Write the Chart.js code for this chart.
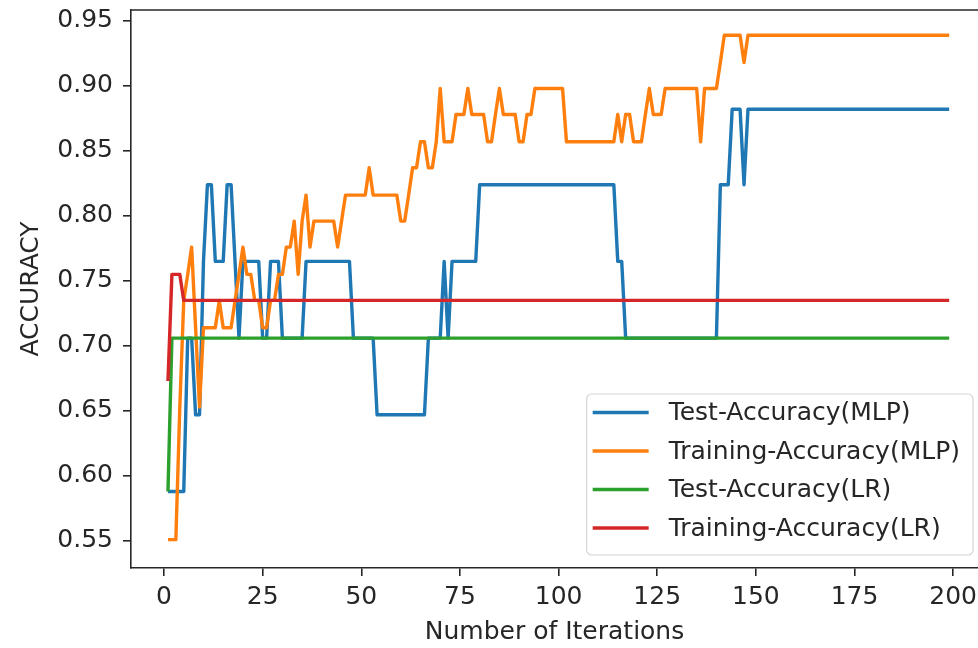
<!DOCTYPE html>
<html>
<head>
<meta charset="utf-8">
<script src="https://cdn.jsdelivr.net/npm/chart.js@4/dist/chart.umd.min.js"></script>
<style>
  html, body { margin: 0; padding: 0; background: #fff; overflow: hidden; }
  canvas { display: block; }
</style>
</head>
<body>
<canvas id="chart" width="978" height="648"></canvas>
<script>
/* ===== Accuracy vs iterations ===== */

// iterations 1..199
const iterations = [];
for (let i = 1; i <= 199; i++) iterations.push(i);

const testMlp = [
  0.588, 0.588, 0.588, 0.588, 0.588, 0.706, 0.706, 0.647, 0.647, 0.765,
  0.824, 0.824, 0.765, 0.765, 0.765, 0.824, 0.824, 0.765, 0.706, 0.765,
  0.765, 0.765, 0.765, 0.765, 0.706, 0.706, 0.765, 0.765, 0.765, 0.706,
  0.706, 0.706, 0.706, 0.706, 0.706, 0.765, 0.765, 0.765, 0.765, 0.765,
  0.765, 0.765, 0.765, 0.765, 0.765, 0.765, 0.765, 0.706, 0.706, 0.706,
  0.706, 0.706, 0.706, 0.647, 0.647, 0.647, 0.647, 0.647, 0.647, 0.647,
  0.647, 0.647, 0.647, 0.647, 0.647, 0.647, 0.706, 0.706, 0.706, 0.706,
  0.765, 0.706, 0.765, 0.765, 0.765, 0.765, 0.765, 0.765, 0.765, 0.824,
  0.824, 0.824, 0.824, 0.824, 0.824, 0.824, 0.824, 0.824, 0.824, 0.824,
  0.824, 0.824, 0.824, 0.824, 0.824, 0.824, 0.824, 0.824, 0.824, 0.824,
  0.824, 0.824, 0.824, 0.824, 0.824, 0.824, 0.824, 0.824, 0.824, 0.824,
  0.824, 0.824, 0.824, 0.824, 0.765, 0.765, 0.706, 0.706, 0.706, 0.706,
  0.706, 0.706, 0.706, 0.706, 0.706, 0.706, 0.706, 0.706, 0.706, 0.706,
  0.706, 0.706, 0.706, 0.706, 0.706, 0.706, 0.706, 0.706, 0.706, 0.706,
  0.824, 0.824, 0.824, 0.882, 0.882, 0.882, 0.824, 0.882, 0.882, 0.882,
  0.882, 0.882, 0.882, 0.882, 0.882, 0.882, 0.882, 0.882, 0.882, 0.882,
  0.882, 0.882, 0.882, 0.882, 0.882, 0.882, 0.882, 0.882, 0.882, 0.882,
  0.882, 0.882, 0.882, 0.882, 0.882, 0.882, 0.882, 0.882, 0.882, 0.882,
  0.882, 0.882, 0.882, 0.882, 0.882, 0.882, 0.882, 0.882, 0.882, 0.882,
  0.882, 0.882, 0.882, 0.882, 0.882, 0.882, 0.882, 0.882, 0.882
];

const trainMlp = [
  0.551, 0.551, 0.551, 0.653, 0.735, 0.755, 0.776, 0.714, 0.653, 0.714,
  0.714, 0.714, 0.714, 0.735, 0.714, 0.714, 0.714, 0.735, 0.755, 0.776,
  0.755, 0.755, 0.735, 0.735, 0.714, 0.714, 0.735, 0.735, 0.755, 0.755,
  0.776, 0.776, 0.796, 0.755, 0.796, 0.816, 0.776, 0.796, 0.796, 0.796,
  0.796, 0.796, 0.796, 0.776, 0.796, 0.816, 0.816, 0.816, 0.816, 0.816,
  0.816, 0.837, 0.816, 0.816, 0.816, 0.816, 0.816, 0.816, 0.816, 0.796,
  0.796, 0.816, 0.837, 0.837, 0.857, 0.857, 0.837, 0.837, 0.857, 0.898,
  0.857, 0.857, 0.857, 0.878, 0.878, 0.878, 0.898, 0.878, 0.878, 0.878,
  0.878, 0.857, 0.857, 0.878, 0.898, 0.878, 0.878, 0.878, 0.878, 0.857,
  0.857, 0.878, 0.878, 0.898, 0.898, 0.898, 0.898, 0.898, 0.898, 0.898,
  0.898, 0.857, 0.857, 0.857, 0.857, 0.857, 0.857, 0.857, 0.857, 0.857,
  0.857, 0.857, 0.857, 0.857, 0.878, 0.857, 0.878, 0.878, 0.857, 0.857,
  0.857, 0.878, 0.898, 0.878, 0.878, 0.878, 0.898, 0.898, 0.898, 0.898,
  0.898, 0.898, 0.898, 0.898, 0.898, 0.857, 0.898, 0.898, 0.898, 0.898,
  0.918, 0.939, 0.939, 0.939, 0.939, 0.939, 0.918, 0.939, 0.939, 0.939,
  0.939, 0.939, 0.939, 0.939, 0.939, 0.939, 0.939, 0.939, 0.939, 0.939,
  0.939, 0.939, 0.939, 0.939, 0.939, 0.939, 0.939, 0.939, 0.939, 0.939,
  0.939, 0.939, 0.939, 0.939, 0.939, 0.939, 0.939, 0.939, 0.939, 0.939,
  0.939, 0.939, 0.939, 0.939, 0.939, 0.939, 0.939, 0.939, 0.939, 0.939,
  0.939, 0.939, 0.939, 0.939, 0.939, 0.939, 0.939, 0.939, 0.939
];

const testLr = [
  0.588, 0.706, 0.706, 0.706, 0.706, 0.706, 0.706, 0.706, 0.706, 0.706,
  0.706, 0.706, 0.706, 0.706, 0.706, 0.706, 0.706, 0.706, 0.706, 0.706,
  0.706, 0.706, 0.706, 0.706, 0.706, 0.706, 0.706, 0.706, 0.706, 0.706,
  0.706, 0.706, 0.706, 0.706, 0.706, 0.706, 0.706, 0.706, 0.706, 0.706,
  0.706, 0.706, 0.706, 0.706, 0.706, 0.706, 0.706, 0.706, 0.706, 0.706,
  0.706, 0.706, 0.706, 0.706, 0.706, 0.706, 0.706, 0.706, 0.706, 0.706,
  0.706, 0.706, 0.706, 0.706, 0.706, 0.706, 0.706, 0.706, 0.706, 0.706,
  0.706, 0.706, 0.706, 0.706, 0.706, 0.706, 0.706, 0.706, 0.706, 0.706,
  0.706, 0.706, 0.706, 0.706, 0.706, 0.706, 0.706, 0.706, 0.706, 0.706,
  0.706, 0.706, 0.706, 0.706, 0.706, 0.706, 0.706, 0.706, 0.706, 0.706,
  0.706, 0.706, 0.706, 0.706, 0.706, 0.706, 0.706, 0.706, 0.706, 0.706,
  0.706, 0.706, 0.706, 0.706, 0.706, 0.706, 0.706, 0.706, 0.706, 0.706,
  0.706, 0.706, 0.706, 0.706, 0.706, 0.706, 0.706, 0.706, 0.706, 0.706,
  0.706, 0.706, 0.706, 0.706, 0.706, 0.706, 0.706, 0.706, 0.706, 0.706,
  0.706, 0.706, 0.706, 0.706, 0.706, 0.706, 0.706, 0.706, 0.706, 0.706,
  0.706, 0.706, 0.706, 0.706, 0.706, 0.706, 0.706, 0.706, 0.706, 0.706,
  0.706, 0.706, 0.706, 0.706, 0.706, 0.706, 0.706, 0.706, 0.706, 0.706,
  0.706, 0.706, 0.706, 0.706, 0.706, 0.706, 0.706, 0.706, 0.706, 0.706,
  0.706, 0.706, 0.706, 0.706, 0.706, 0.706, 0.706, 0.706, 0.706, 0.706,
  0.706, 0.706, 0.706, 0.706, 0.706, 0.706, 0.706, 0.706, 0.706
];

const trainLr = [
  0.673, 0.755, 0.755, 0.755, 0.735, 0.735, 0.735, 0.735, 0.735, 0.735,
  0.735, 0.735, 0.735, 0.735, 0.735, 0.735, 0.735, 0.735, 0.735, 0.735,
  0.735, 0.735, 0.735, 0.735, 0.735, 0.735, 0.735, 0.735, 0.735, 0.735,
  0.735, 0.735, 0.735, 0.735, 0.735, 0.735, 0.735, 0.735, 0.735, 0.735,
  0.735, 0.735, 0.735, 0.735, 0.735, 0.735, 0.735, 0.735, 0.735, 0.735,
  0.735, 0.735, 0.735, 0.735, 0.735, 0.735, 0.735, 0.735, 0.735, 0.735,
  0.735, 0.735, 0.735, 0.735, 0.735, 0.735, 0.735, 0.735, 0.735, 0.735,
  0.735, 0.735, 0.735, 0.735, 0.735, 0.735, 0.735, 0.735, 0.735, 0.735,
  0.735, 0.735, 0.735, 0.735, 0.735, 0.735, 0.735, 0.735, 0.735, 0.735,
  0.735, 0.735, 0.735, 0.735, 0.735, 0.735, 0.735, 0.735, 0.735, 0.735,
  0.735, 0.735, 0.735, 0.735, 0.735, 0.735, 0.735, 0.735, 0.735, 0.735,
  0.735, 0.735, 0.735, 0.735, 0.735, 0.735, 0.735, 0.735, 0.735, 0.735,
  0.735, 0.735, 0.735, 0.735, 0.735, 0.735, 0.735, 0.735, 0.735, 0.735,
  0.735, 0.735, 0.735, 0.735, 0.735, 0.735, 0.735, 0.735, 0.735, 0.735,
  0.735, 0.735, 0.735, 0.735, 0.735, 0.735, 0.735, 0.735, 0.735, 0.735,
  0.735, 0.735, 0.735, 0.735, 0.735, 0.735, 0.735, 0.735, 0.735, 0.735,
  0.735, 0.735, 0.735, 0.735, 0.735, 0.735, 0.735, 0.735, 0.735, 0.735,
  0.735, 0.735, 0.735, 0.735, 0.735, 0.735, 0.735, 0.735, 0.735, 0.735,
  0.735, 0.735, 0.735, 0.735, 0.735, 0.735, 0.735, 0.735, 0.735, 0.735,
  0.735, 0.735, 0.735, 0.735, 0.735, 0.735, 0.735, 0.735, 0.735
];

const seriesLabels = ['Test-Accuracy(MLP)', 'Training-Accuracy(MLP)', 'Test-Accuracy(LR)', 'Training-Accuracy(LR)'];
const seriesColors = ['#1f77b4', '#ff7f0e', '#2ca02c', '#d62728'];
const xTicks = [0, 25, 50, 75, 100, 125, 150, 175, 200];
const yTicks = [0.55, 0.60, 0.65, 0.70, 0.75, 0.80, 0.85, 0.90, 0.95];

const FONT = 'DejaVu Sans';
const FS = 25;
const INK = '#262626';

function toPoints(values) {
  return values.map((v, i) => ({ x: iterations[i], y: v }));
}

// top spine + legend box (lower right, matplotlib style)
const framePlugin = {
  id: 'frame',
  afterDraw(chart) {
    const { ctx, chartArea } = chart;
    ctx.save();
    ctx.strokeStyle = INK;
    ctx.lineWidth = 1.6;
    ctx.beginPath();
    ctx.moveTo(chartArea.left, chartArea.top);
    ctx.lineTo(chartArea.right, chartArea.top);
    ctx.stroke();

    // legend
    ctx.font = `${FS}px "${FONT}"`;
    const labels = chart.data.datasets.map(d => d.label);
    const maxW = Math.max(...labels.map(l => ctx.measureText(l).width));
    const right = 973, bottom = 555, rowH = 38.5;
    const textOff = 82, padR = 13;
    const w = textOff + maxW + padR;
    const h = 161;
    const left = right - w, top = bottom - h;
    ctx.beginPath();
    ctx.roundRect(left, top, w, h, 5);
    ctx.fillStyle = 'rgba(255,255,255,0.85)';
    ctx.fill();
    ctx.strokeStyle = '#d6d6d6';
    ctx.lineWidth = 1.2;
    ctx.stroke();

    chart.data.datasets.forEach((ds, i) => {
      const y = top + 18.5 + i * rowH;
      ctx.strokeStyle = ds.borderColor;
      ctx.lineWidth = 3.4;
      ctx.beginPath();
      ctx.moveTo(left + 6, y);
      ctx.lineTo(left + 62, y);
      ctx.stroke();
      ctx.fillStyle = INK;
      ctx.textBaseline = 'middle';
      ctx.textAlign = 'left';
      ctx.fillText(ds.label, left + textOff, y + 1);
    });
    ctx.restore();
  }
};

const datasets = [testMlp, trainMlp, testLr, trainLr].map((vals, i) => ({
  label: seriesLabels[i],
  data: toPoints(vals),
  borderColor: seriesColors[i],
  backgroundColor: seriesColors[i],
  borderWidth: 3.4,
  borderJoinStyle: 'round',
  pointRadius: 0,
  tension: 0,
  fill: false,
  order: 4 - i   // later series drawn on top, as in matplotlib
}));

new Chart(document.getElementById('chart'), {
  type: 'line',
  data: { datasets },
  plugins: [framePlugin],
  options: {
    responsive: false,
    animation: false,
    devicePixelRatio: 1,
    layout: { padding: { top: 10, right: 0, bottom: 0, left: 0 } },
    plugins: { legend: { display: false }, tooltip: { enabled: false } },
    scales: {
      x: {
        type: 'linear',
        min: -8.37,
        max: 206.3,
        afterBuildTicks: (scale) => { scale.ticks = xTicks.map(v => ({ value: v })); },
        afterFit: (scale) => { scale.height = 80; scale.paddingLeft = 0; scale.paddingRight = 0; },
        grid: { drawOnChartArea: false, drawTicks: true, tickLength: 8, color: INK, lineWidth: 1.6 },
        border: { display: true, color: INK, width: 1.6 },
        ticks: { color: INK, font: { family: FONT, size: FS }, padding: 6, maxRotation: 0, autoSkip: false },
        title: { display: true, text: 'Number of Iterations', color: INK, font: { family: FONT, size: FS }, padding: { top: 0, bottom: 1 } }
      },
      y: {
        type: 'linear',
        min: 0.52915,
        max: 0.95838,
        afterBuildTicks: (scale) => { scale.ticks = yTicks.map(v => ({ value: v })); },
        afterFit: (scale) => { scale.width = 131; scale.paddingTop = 0; scale.paddingBottom = 0; },
        grid: { drawOnChartArea: false, drawTicks: true, tickLength: 8, color: INK, lineWidth: 1.6 },
        border: { display: true, color: INK, width: 1.6 },
        ticks: { color: INK, font: { family: FONT, size: FS }, padding: 10, callback: (v) => v.toFixed(2) },
        title: { display: true, text: 'ACCURACY', color: INK, font: { family: FONT, size: FS }, padding: { top: 16, bottom: 0 } }
      }
    }
  }
});
</script>
</body>
</html>
